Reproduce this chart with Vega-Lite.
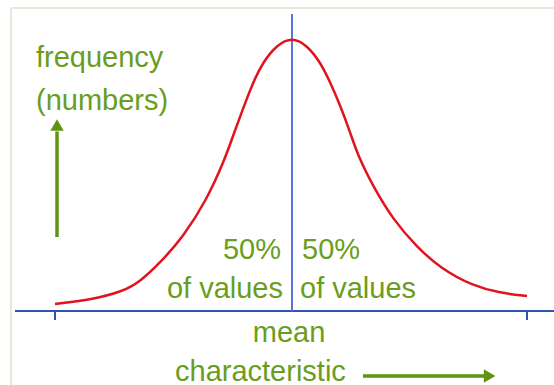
{
  "$schema": "https://vega.github.io/schema/vega-lite/v6.json",
  "width": 554,
  "height": 385,
  "padding": 0,
  "autosize": {"type": "none"},
  "background": "white",
  "config": {"view": {"stroke": null}},
  "encoding": {
    "x": {"field": "x", "type": "quantitative", "scale": {"domain": [-3.65, 3.275], "nice": false, "zero": false}, "axis": null},
    "y": {"field": "y", "type": "quantitative", "scale": {"domain": [-27.21, 114.34], "nice": false, "zero": false}, "axis": null}
  },
  "layer": [
    {
      "data": {"values": [
        {"x": -3.5125, "y": 111.4, "x2": 3.275, "y2": 111.4},
        {"x": -3.5125, "y": 111.4, "x2": -3.5125, "y2": -27.21}
      ]},
      "mark": {"type": "rule", "stroke": "#ebe7da", "strokeWidth": 2},
      "encoding": {"x2": {"field": "x2"}, "y2": {"field": "y2"}}
    },
    {
      "data": {"values": [
        {"x": -3.4625, "y": 0, "x2": 3.275, "y2": 0},
        {"x": -2.9625, "y": 0, "x2": -2.9625, "y2": -3.3},
        {"x": 2.9375, "y": 0, "x2": 2.9375, "y2": -3.3}
      ]},
      "mark": {"type": "rule", "stroke": "#2f55b0", "strokeWidth": 2},
      "encoding": {"x2": {"field": "x2"}, "y2": {"field": "y2"}}
    },
    {
      "data": {"values": [{"x": 0, "y": 109.2, "x2": 0, "y2": 0}]},
      "mark": {"type": "rule", "stroke": "#5a74d8", "strokeWidth": 2},
      "encoding": {"x2": {"field": "x2"}, "y2": {"field": "y2"}}
    },
    {
      "data": {"values": [
        {"x": -2.9625, "y": 2.57},
        {"x": -2.525, "y": 4.04},
        {"x": -2.1125, "y": 7.17},
        {"x": -1.9, "y": 10.77},
        {"x": -1.65, "y": 17.65},
        {"x": -1.3588, "y": 27.32},
        {"x": -1.0663, "y": 40.81},
        {"x": -0.8375, "y": 55.88},
        {"x": -0.7338, "y": 64.71},
        {"x": -0.6088, "y": 74.63},
        {"x": -0.4838, "y": 84.3},
        {"x": -0.3588, "y": 91.65},
        {"x": -0.1913, "y": 97.79},
        {"x": 0, "y": 100.74},
        {"x": 0.1838, "y": 97.79},
        {"x": 0.35, "y": 91.65},
        {"x": 0.475, "y": 84.3},
        {"x": 0.6, "y": 75.74},
        {"x": 0.725, "y": 65.92},
        {"x": 0.825, "y": 56.99},
        {"x": 1.0163, "y": 45.7},
        {"x": 1.2663, "y": 33.46},
        {"x": 1.5588, "y": 23.64},
        {"x": 1.85, "y": 15.81},
        {"x": 2.2625, "y": 9.19},
        {"x": 2.6, "y": 6.62},
        {"x": 2.9375, "y": 5.51}
      ]},
      "mark": {"type": "line", "stroke": "#e0141e", "strokeWidth": 2.5, "interpolate": "basis"}
    },
    {
      "data": {"values": [
        {"x": -2.9375, "y": 27.2, "x2": -2.9375, "y2": 66},
        {"x": 0.8875, "y": -23.9, "x2": 2.42, "y2": -23.9}
      ]},
      "mark": {"type": "rule", "stroke": "#5e9410", "strokeWidth": 3.5},
      "encoding": {"x2": {"field": "x2"}, "y2": {"field": "y2"}}
    },
    {
      "data": {"values": [{"x": -2.9375, "y": 68.4}]},
      "mark": {"type": "point", "shape": "triangle-up", "filled": true, "color": "#5e9410", "opacity": 1, "size": 180}
    },
    {
      "data": {"values": [{"x": 2.47, "y": -23.9}]},
      "mark": {"type": "point", "shape": "triangle-right", "filled": true, "color": "#5e9410", "opacity": 1, "size": 180}
    },
    {
      "data": {"values": [
        {"x": -3.2, "y": 89.7, "label": "frequency"},
        {"x": -3.2, "y": 73.9, "label": "(numbers)"},
        {"x": 0.125, "y": 19.1, "label": "50%"},
        {"x": 0.1, "y": 4.78, "label": "of values"},
        {"x": -1.4625, "y": -25.74, "label": "characteristic"}
      ]},
      "mark": {"type": "text", "align": "left", "baseline": "alphabetic", "font": "Liberation Sans", "fontSize": 29, "color": "#6a9d1e"},
      "encoding": {"text": {"field": "label"}}
    },
    {
      "data": {"values": [
        {"x": -0.1375, "y": 19.1, "label": "50%"},
        {"x": -0.1125, "y": 4.78, "label": "of values"}
      ]},
      "mark": {"type": "text", "align": "right", "baseline": "alphabetic", "font": "Liberation Sans", "fontSize": 29, "color": "#6a9d1e"},
      "encoding": {"text": {"field": "label"}}
    },
    {
      "data": {"values": [
        {"x": -0.0375, "y": -11.4, "label": "mean"}
      ]},
      "mark": {"type": "text", "align": "center", "baseline": "alphabetic", "font": "Liberation Sans", "fontSize": 29, "color": "#6a9d1e"},
      "encoding": {"text": {"field": "label"}}
    }
  ]
}
